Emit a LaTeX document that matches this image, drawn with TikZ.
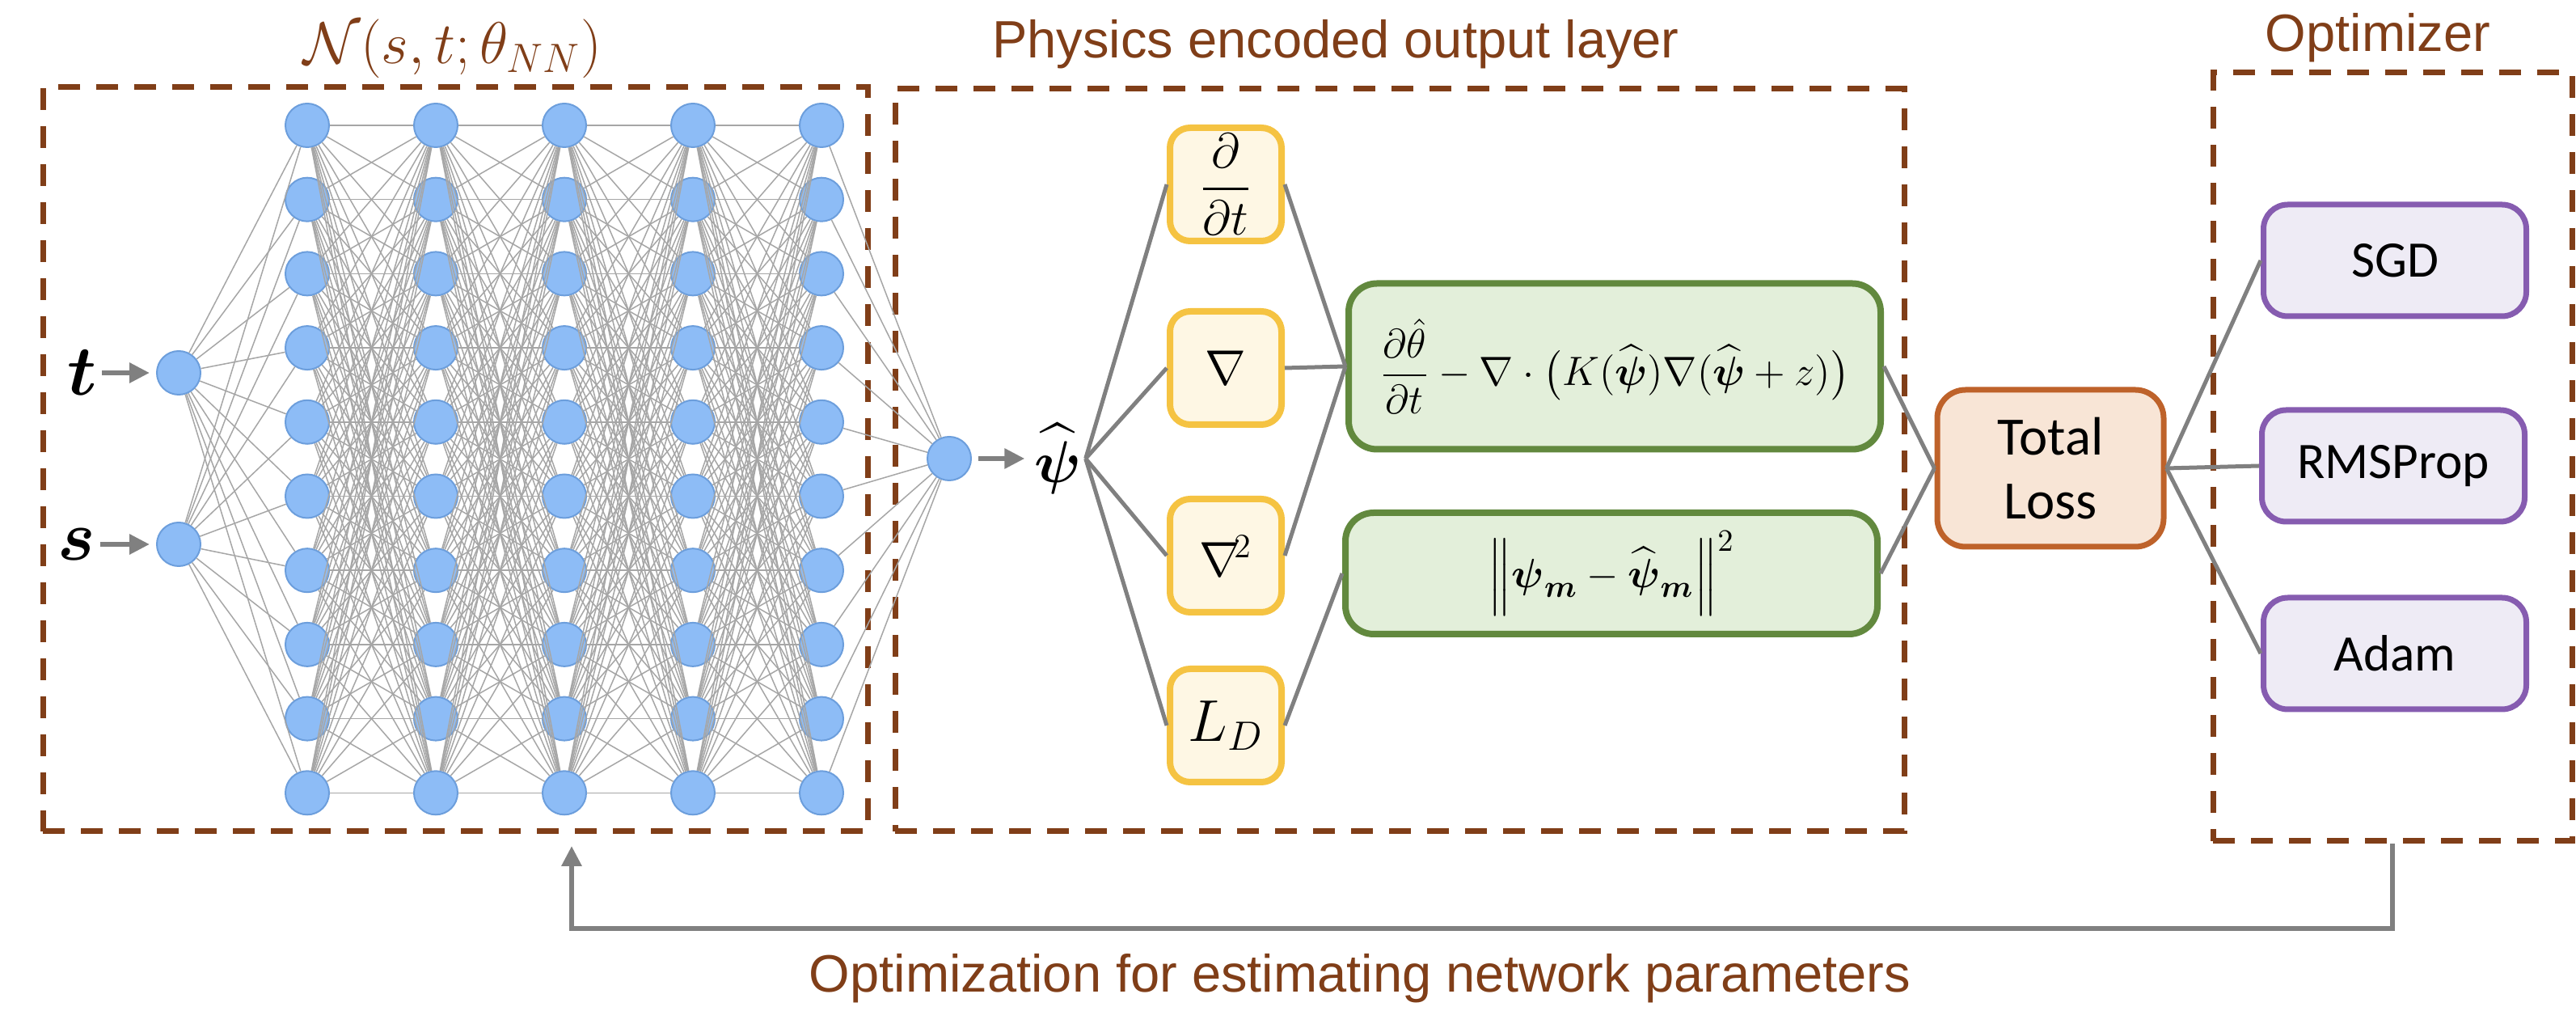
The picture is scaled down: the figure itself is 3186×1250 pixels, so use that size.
\documentclass[tikz,border=0pt]{standalone}
\usepackage{amsmath, amssymb}
\usepackage[no-math]{fontspec}
\newfontfamily\capfont{Liberation Sans}
\newfontfamily\boxfont{Carlito}
\usetikzlibrary{arrows.meta}

\definecolor{framebrown}{RGB}{128,62,24}
\definecolor{neuronfill}{RGB}{141,188,246}
\definecolor{neurondraw}{RGB}{108,158,220}
\definecolor{opfill}{RGB}{254,247,228}
\definecolor{opdraw}{RGB}{245,195,66}
\definecolor{lossfill}{RGB}{227,239,218}
\definecolor{lossdraw}{RGB}{98,137,62}
\definecolor{totalfill}{RGB}{248,229,214}
\definecolor{totaldraw}{RGB}{190,98,42}
\definecolor{optfill}{RGB}{238,235,245}
\definecolor{optdraw}{RGB}{134,92,176}
\definecolor{linkgray}{RGB}{128,128,128}

\begin{document}
\begin{tikzpicture}[x=0.1mm, y=-0.1mm,
    neuron/.style={circle, fill=neuronfill, draw=neurondraw, line width=0.2mm, minimum size=5.4mm, inner sep=0pt},
    weight/.style={gray!70, line width=0.15mm},
    frame/.style={draw=framebrown, line width=0.7mm, dash pattern=on 2.7mm off 2mm, inner sep=0pt},
    title/.style={text=framebrown, font=\capfont\fontsize{18.5}{22}\selectfont},
    opbox/.style={draw=opdraw, fill=opfill, line width=0.8mm, rounded corners=2.5mm, minimum width=13.8mm, minimum height=14mm, inner sep=0pt},
    lossbox/.style={draw=lossdraw, fill=lossfill, line width=0.8mm, rounded corners=3.5mm, minimum width=65.8mm, inner sep=0pt, font=\fontsize{14.6}{17.5}\selectfont},
    totalbox/.style={draw=totaldraw, fill=totalfill, line width=0.7mm, rounded corners=3.5mm, minimum width=28mm, minimum height=19.4mm, align=center, font=\boxfont\fontsize{19}{22.7}\selectfont},
    optbox/.style={draw=optdraw, fill=optfill, line width=0.7mm, rounded corners=3mm, minimum width=32.5mm, minimum height=13.8mm, font=\boxfont\fontsize{18}{22}\selectfont},
    inarrow/.style={-{Triangle[length=2.5mm,width=2.4mm]}, linkgray, line width=0.6mm},
    link/.style={linkgray, line width=0.5mm},
    feed/.style={-{Triangle[length=2.5mm,width=2.4mm]}, linkgray, line width=0.6mm}]

    \useasboundingbox (0,0) rectangle (3186,1250);

    % dashed frames
    \node[frame, minimum width=102mm, minimum height=92mm] (nnframe) at (563,568) {};
    \node[frame, minimum width=124.8mm, minimum height=91.8mm] (physframe) at (1731,569) {};
    \node[frame, minimum width=44.4mm, minimum height=95mm] (optframe) at (2959,565) {};

    % frame titles
    \node[title, font=\fontsize{19.5}{23}\selectfont] (nntitle) at (560,60) {$\mathcal{N}(s,t;\theta_{NN})$};
    \node[title, anchor=base] (phystitle) at (1652,72) {Physics encoded output layer};
    \node[title, anchor=base] (opttitle) at (2941,64) {Optimizer};

    % input layer
    \node[neuron] (in-1) at (221,461) {};
    \node[neuron] (in-2) at (221,673) {};

    % hidden layers
    \foreach \l in {1,...,5}
        \foreach \i in {1,...,10}
            \node[neuron] (h\l-\i) at ({380+159*(\l-1)},{155+91.7*(\i-1)}) {};

    % output neuron
    \node[neuron] (out) at (1174,567) {};

    % weights
    \foreach \i in {1,...,10} {
        \draw[weight] (in-1) -- (h1-\i);
        \draw[weight] (in-2) -- (h1-\i);
        \draw[weight] (h5-\i) -- (out);
    }
    \foreach \l/\m in {1/2,2/3,3/4,4/5}
        \foreach \i in {1,...,10}
            \foreach \j in {1,...,10}
                \draw[weight] (h\l-\i) -- (h\m-\j);

    % inputs
    \node[inner sep=0.5mm, font=\fontsize{23}{27}\selectfont] (tlab) at (102,461) {$\boldsymbol{t}$};
    \node[inner sep=0.5mm, font=\fontsize{23}{27}\selectfont] (slab) at (95,673) {$\boldsymbol{s}$};
    \draw[inarrow, shorten >=0.8mm] (tlab) -- (in-1);
    \draw[inarrow, shorten >=0.8mm] (slab) -- (in-2);

    % network output
    \node[inner sep=0.5mm, font=\fontsize{22}{26}\selectfont] (psi) at (1308,567) {$\widehat{\boldsymbol{\psi}}$};
    \draw[inarrow, shorten <=0.8mm, shorten >=0.6mm] (out) -- (psi);

    % operators
    \node[opbox, font=\fontsize{16}{19}\selectfont] (dt) at (1516,228) {$\dfrac{\partial}{\partial t}$};
    \node[opbox, font=\fontsize{18}{22}\selectfont] (grad) at (1516,455) {$\nabla$};
    \node[opbox, font=\fontsize{18}{22}\selectfont] (lap) at (1516,687) {$\nabla^{\!\text{\large 2}}$};
    \node[opbox, font=\fontsize{20}{24}\selectfont] (ld) at (1516,897) {$L_D$};

    % loss terms
    \node[lossbox, minimum height=20.5mm] (pde) at (1997,453)
        {$\displaystyle\frac{\partial\hat{\theta}}{\partial t}-\nabla\cdot\big(K(\widehat{\boldsymbol{\psi}})\nabla(\widehat{\boldsymbol{\psi}}+z)\big)$};
    \node[lossbox, minimum height=15mm, font=\fontsize{15}{18}\selectfont] (data) at (1993,709)
        {$\left\|\boldsymbol{\psi}_{\boldsymbol{m}}-\widehat{\boldsymbol{\psi}}_{\boldsymbol{m}}\right\|^2$};

    \node[totalbox] (loss) at (2536,579) {Total\\Loss};

    % optimizers
    \node[optbox] (sgd) at (2962,322) {SGD};
    \node[optbox] (rms) at (2960,576) {RMSProp};
    \node[optbox] (adam) at (2962,808) {Adam};

    % links
    \foreach \b in {dt,grad,lap,ld}
        \draw[link] (psi.east) -- (\b.west);
    \foreach \b in {dt,grad,lap}
        \draw[link] (\b.east) -- (pde.west);
    \draw[link] (ld.east) -- (data.west);
    \draw[link] (pde.east) -- (loss.west);
    \draw[link] (data.east) -- (loss.west);
    \foreach \b in {sgd,rms,adam}
        \draw[link] (loss.east) -- (\b.west);

    % feedback loop
    \coordinate (fbturn) at (707,1148);
    \coordinate (fbend) at (707,1046);
    \draw[feed] (optframe.south) |- (fbturn) -- (fbend);
    \node[title, anchor=base] (fbtitle) at (1682,1227) {Optimization for estimating network parameters};
\end{tikzpicture}
\end{document}
